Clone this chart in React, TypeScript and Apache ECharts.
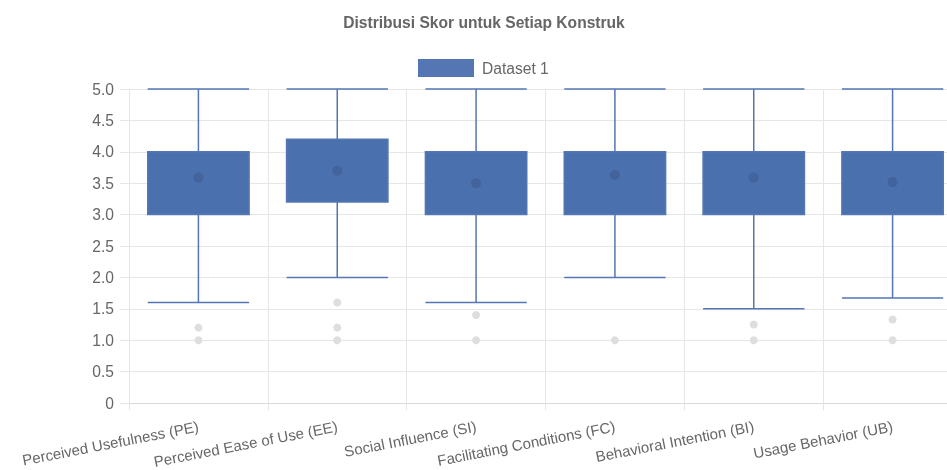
import React, { useEffect, useRef } from "react";
import * as echarts from "echarts";

const categories = [
  "Perceived Usefulness (PE)",
  "Perceived Ease of Use (EE)",
  "Social Influence (SI)",
  "Facilitating Conditions (FC)",
  "Behavioral Intention (BI)",
  "Usage Behavior (UB)",
];
// [min, Q1, median, Q3, max]
const boxValues = [
  [1.6, 3.0, 4.0, 4.0, 5.0],
  [2.0, 3.2, 4.2, 4.2, 5.0],
  [1.6, 3.0, 4.0, 4.0, 5.0],
  [2.0, 3.0, 4.0, 4.0, 5.0],
  [1.5, 3.0, 4.0, 4.0, 5.0],
  [1.67, 3.0, 4.0, 4.0, 5.0],
];
const meanValues = [3.59, 3.7, 3.5, 3.63, 3.59, 3.52];
const outlierValues = [
  [1.2, 1.0],
  [1.6, 1.2, 1.0],
  [1.4, 1.0],
  [1.0],
  [1.25, 1.0],
  [1.33, 1.0],
];
const yTicks = [0, 0.5, 1, 1.5, 2, 2.5, 3, 3.5, 4, 4.5, 5];

const FONT = "'Liberation Sans', Arial, Helvetica, sans-serif";
const FS = 15.6;
const BLUE = "#4a70ae";

export default function App() {
  const ref = useRef<HTMLDivElement>(null);
  useEffect(() => {
    if (!ref.current) return;
    const chart = echarts.init(ref.current, undefined, { renderer: "svg" });
    const outlierData: number[][] = [];
    outlierValues.forEach((arr, i) => arr.forEach((v) => outlierData.push([i, v])));
    chart.setOption({
      animation: false,
      textStyle: { fontFamily: FONT },
      graphic: [
        {
          type: "text",
          x: 484,
          y: 22,
          style: {
            text: "Distribusi Skor untuk Setiap Konstruk",
            align: "center",
            verticalAlign: "middle",
            fontFamily: FONT,
            fontWeight: "bold",
            fontSize: FS,
            fill: "#666",
          },
        },
      ],
      legend: {
        data: [{ name: "Dataset 1", icon: "rect" }],
        left: 418,
        top: 59,
        itemWidth: 54,
        itemHeight: 16,
        padding: 0,
        textStyle: { fontSize: FS, color: "#666", fontFamily: FONT, padding: [0, 0, 0, 4] },
      },
      grid: { left: 129, top: 89, bottom: 67, right: -15, containLabel: false, outerBoundsMode: "none" },
      xAxis: {
        type: "category",
        data: categories,
        boundaryGap: true,
        axisLine: { lineStyle: { color: "#d9d9d9" } },
        axisTick: { show: true, length: 7, lineStyle: { color: "#e4e4e4" } },
        splitLine: { show: true, lineStyle: { color: "#e6e6e6" } },
        axisLabel: {
          rotate: 11,
          interval: 0,
          margin: 23,
          fontSize: 15,
          color: "#666",
          fontFamily: FONT,
        },
      },
      yAxis: {
        type: "value",
        min: 0,
        max: 5,
        interval: 0.5,
        axisLine: { show: false },
        axisTick: { show: true, length: 9, lineStyle: { color: "#e6e6e6" } },
        splitLine: { show: true, lineStyle: { color: "#e6e6e6" } },
        axisLabel: {
          margin: 15,
          fontSize: FS,
          color: "#666",
          fontFamily: FONT,
          customValues: yTicks,
          formatter: (v: number) => (v === 0 ? "0" : v.toFixed(1)),
        },
      },
      series: [
        {
          name: "Dataset 1",
          type: "boxplot",
          data: boxValues,
          boxWidth: ["73%", "73%"],
          itemStyle: { color: BLUE, borderColor: "#5477b3", borderWidth: 1.5 },
        },
        {
          name: "Mean",
          type: "scatter",
          data: meanValues.map((v, i) => [i, v]),
          symbolSize: 10,
          itemStyle: { color: "#42639c", opacity: 1 },
          z: 5,
        },
        {
          name: "Outliers",
          type: "scatter",
          data: outlierData,
          symbolSize: 8,
          itemStyle: { color: "#dedede", opacity: 1 },
          z: 5,
        },
      ],
    });
    return () => chart.dispose();
  }, []);
  return (
    <div
      ref={ref}
      style={{ position: "fixed", left: 0, top: 0, width: 947, height: 470 }}
    />
  );
}
